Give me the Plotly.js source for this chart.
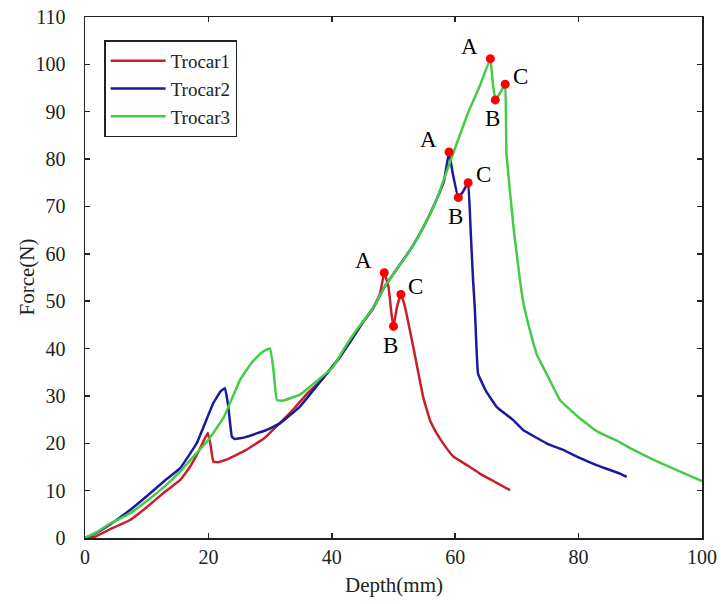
<!DOCTYPE html>
<html>
<head>
<meta charset="utf-8">
<script src="https://cdn.plot.ly/plotly-3.0.1.min.js"></script>
<style>html,body{margin:0;padding:0;background:#fff;}#chart{width:721px;height:604px;}</style>
</head>
<body>
<div id="chart"></div>
<script>
// ---- data ----
const seriesNames = ["Trocar1", "Trocar2", "Trocar3"];

const trocar1X = [0,1.5,4,7.3,10,13,15.4,17,18.5,19.9,20.3,20.8,21.5,23,26,29,31.6,34,36,38.3,40.8,43,45,46.7,47.8,48.5,49.2,49.7,50.0,50.6,51.2,51.6,52.1,53.2,54.8,55.9,57,58.3,59.7,62,64,66.5,68.9];
const trocar1Y = [0,0.2,1.8,3.8,6.5,9.8,12.2,15,18.5,22.2,20,16.1,16,16.6,18.5,21,24.3,27.5,30.5,33.3,37.3,41.5,45.5,48.5,51.5,56,53,47,44.7,49,51.4,50,47.4,40.4,29.8,24.9,22.1,19.5,17.2,15.3,13.6,11.8,10.1];

const trocar2X = [0,2,4,7.3,10,13,15.4,18.1,20.8,22,22.7,23.2,23.8,24.3,26,29.4,31.6,34.8,38.3,40.8,43,45,46.7,48.5,50,52.7,55,57,58.2,59.0,59.6,60.5,61.2,62.1,62.5,62.9,63.2,63.7,65,66.7,69.4,71,74.8,77.5,80,82.9,86.7,87.8];
const trocar2Y = [0,1.2,2.8,5.9,8.8,12.2,14.7,20,28.5,31,31.6,28,21.4,20.9,21.3,22.8,24.2,27.7,33.3,37.3,41.5,45.5,48.5,52.9,55.8,60.8,66,71.5,75.5,81.5,77,71.9,73,75,65,54.4,48,34.7,31,27.7,24.9,22.8,20,18.6,17,15.4,13.6,12.9];

const trocar3X = [0,2,4,7.3,10,13,15.4,18,20,22.5,25.1,27,28.5,29.5,30.0,30.5,31.1,32,34.8,37,40.2,42,44,46.7,48.5,50,52.7,55,57,59.2,62,64,65.7,66.1,66.5,67.3,68.1,68.3,69.5,70.5,71,72.1,73.3,74.8,77,80,83,86.7,88.9,92,96,100];
const trocar3Y = [0,1.3,3,5.2,7.8,11,14,17.8,20.7,25.5,33.3,37,39,39.8,40,36,29.1,29,30.2,32.5,36.1,40,43.9,48.5,52.9,55.8,60.8,66,71.5,79.5,89.5,95.5,101.2,96,92.5,94,95.8,81.2,65,54.4,50,43.9,38.5,34.7,29.1,25.5,22.5,20.2,18.6,16.6,14.3,12];

// marked points A, B, C on each curve
const pointLabels = ["A", "B", "C"];
const trocar1PtsX = [48.5, 50.0, 51.2];
const trocar1PtsY = [56.0, 44.7, 51.4];
const trocar2PtsX = [59.0, 60.5, 62.1];
const trocar2PtsY = [81.5, 71.9, 75.0];
const trocar3PtsX = [65.7, 66.5, 68.1];
const trocar3PtsY = [101.2, 92.5, 95.8];

const xTicks = [0, 20, 40, 60, 80, 100];
const yTicks = [0, 10, 20, 30, 40, 50, 60, 70, 80, 90, 100, 110];
const xTitle = "Depth(mm)";
const yTitle = "Force(N)";

// ---- styles ----
const colors = ["#c8202a", "#1a1a9e", "#44cc44"];
const labelShift = {A: [-21, 12], B: [-3, -19], C: [15, 8]};
const serif = "Liberation Serif";

const lineData = [[trocar1X, trocar1Y], [trocar2X, trocar2Y], [trocar3X, trocar3Y]];
const ptsData = [[trocar1PtsX, trocar1PtsY], [trocar2PtsX, trocar2PtsY], [trocar3PtsX, trocar3PtsY]];

const traces = [];
lineData.forEach((d, i) => {
  traces.push({
    x: d[0], y: d[1], type: "scatter", mode: "lines", name: seriesNames[i],
    line: {color: colors[i], width: 2.5, shape: "spline", smoothing: 0.25}
  });
});
const annotations = [];
ptsData.forEach((d, i) => {
  traces.push({
    x: d[0], y: d[1], type: "scatter", mode: "markers", showlegend: false,
    marker: {color: "#ff0000", size: 9}, hoverinfo: "skip"
  });
  d[0].forEach((xv, j) => {
    const lab = pointLabels[j];
    annotations.push({
      x: xv, y: d[1][j], xref: "x", yref: "y", text: lab, showarrow: false,
      xshift: labelShift[lab][0], yshift: labelShift[lab][1],
      font: {family: serif, size: 23, color: "#000"}
    });
  });
});
// axis titles
annotations.push({
  text: xTitle, xref: "paper", yref: "paper", x: 0.5, y: -0.090,
  xanchor: "center", yanchor: "middle", showarrow: false,
  font: {family: serif, size: 21, color: "#222"}
});
annotations.push({
  text: yTitle, xref: "paper", yref: "paper", x: -0.0956, y: 0.5, textangle: -90,
  xanchor: "center", yanchor: "middle", showarrow: false,
  font: {family: serif, size: 21, color: "#222"}
});

const axisCommon = {
  showgrid: false, zeroline: false, showline: true, linecolor: "#222", linewidth: 1.5,
  mirror: "ticks", ticks: "inside", ticklen: 5, tickwidth: 1.5, tickcolor: "#222",
  tickfont: {family: serif, size: 20, color: "#222"}
};

const layout = {
  width: 721, height: 604,
  margin: {l: 85, r: 19, t: 17, b: 66},
  paper_bgcolor: "#fff", plot_bgcolor: "#fff",
  showlegend: true,
  legend: {
    x: 0.031, y: 0.955, xanchor: "left", yanchor: "top",
    bgcolor: "#fff", bordercolor: "#222", borderwidth: 1.5,
    font: {family: serif, size: 19, color: "#222"},
    itemwidth: 55, tracegroupgap: 0
  },
  xaxis: Object.assign({}, axisCommon, {
    range: [0, 100], tickvals: xTicks, ticktext: xTicks.map(String),
    ticklabelstandoff: 0
  }),
  yaxis: Object.assign({}, axisCommon, {
    range: [0, 110], tickvals: yTicks, ticktext: yTicks.map(String),
    ticklabelstandoff: 14
  }),
  annotations: annotations
};

Plotly.newPlot("chart", traces, layout, {displayModeBar: false, staticPlot: true});
</script>
</body>
</html>
